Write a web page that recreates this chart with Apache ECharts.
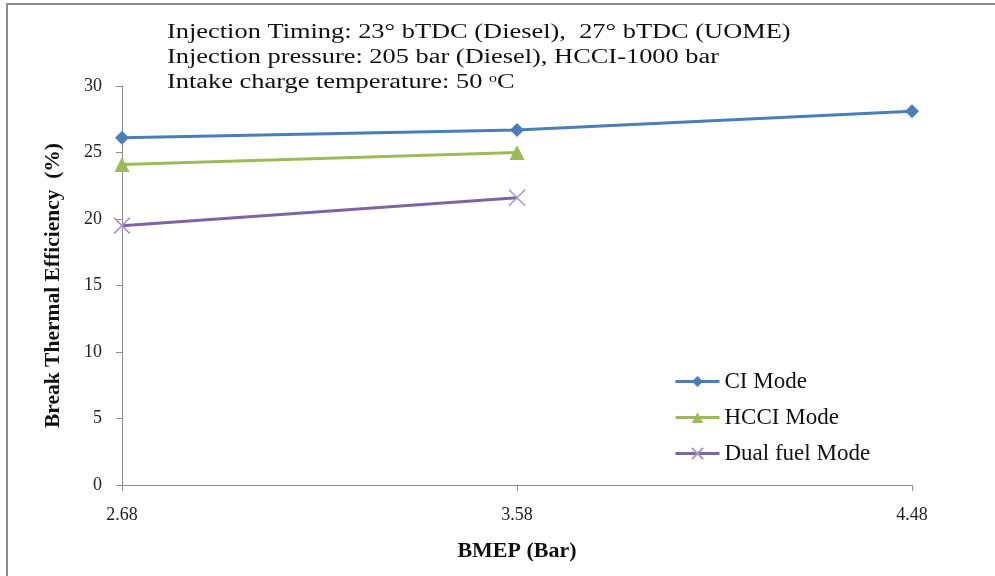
<!DOCTYPE html>
<html>
<head>
<meta charset="utf-8">
<script src="https://cdn.jsdelivr.net/npm/echarts@6/dist/echarts.min.js"></script>
<style>
  html, body { margin: 0; padding: 0; background: #fff; }
  #chart { width: 995px; height: 576px; }
</style>
</head>
<body>
<div id="chart"></div>
<script>
// BMEP load points
var bmep = ['2.68', '3.58', '4.48'];
// brake thermal efficiency (%)
var ciMode = [26.1, 26.7, 28.1];
var hcciMode = [24.1, 25.0];
var dualMode = [19.5, 21.6];
var yTicks = { min: 0, max: 30, step: 5 };

var serif = 'Liberation Serif';
var crossPath = 'path://M0,0L10,10M10,0L0,10';
// the source picture is stretched sideways, so the notes are too
var noteStretch = 1.32;

var myChart = echarts.init(document.getElementById('chart'));

var option = {
	backgroundColor: '#fff',
	animation: false,
	textStyle: { fontFamily: serif },
	grid: { left: 122, right: 83, top: 86, bottom: 91 },
	graphic: [
		// outer frame (only top/left visible in the picture)
		{ type: 'rect', shape: { x: 7, y: 4, width: 1010, height: 600 },
		  style: { fill: 'none', stroke: '#8c8c8c', lineWidth: 2 } },
		{ type: 'text', x: 167, y: 23, scaleX: noteStretch,
		  style: { text: 'Injection Timing: 23\u00b0 bTDC (Diesel),  27\u00b0 bTDC (UOME)',
			font: '20px "Liberation Serif"', fill: '#111' } },
		{ type: 'text', x: 167, y: 48, scaleX: noteStretch,
		  style: { text: 'Injection pressure: 205 bar (Diesel), HCCI-1000 bar',
			font: '20px "Liberation Serif"', fill: '#111' } },
		{ type: 'text', x: 167, y: 73, scaleX: noteStretch,
		  style: { text: 'Intake charge temperature: 50 {sup|o}C',
			font: '20px "Liberation Serif"', fill: '#111',
			rich: { sup: { fontSize: 12, verticalAlign: 'top', padding: [0, 0, 8, 0], fontFamily: serif, fill: '#111' } } } }
	],
	legend: {
		orient: 'vertical',
		left: 669,
		top: 365,
		itemWidth: 44,
		itemHeight: 14,
		itemGap: 13,
		lineStyle: { width: 3 },
		textStyle: { fontFamily: serif, fontSize: 23, color: '#111' },
		data: ['CI Mode', 'HCCI Mode', 'Dual fuel Mode']
	},
	xAxis: {
		type: 'category',
		data: bmep,
		boundaryGap: false,
		name: 'BMEP (Bar)',
		nameLocation: 'middle',
		nameGap: 55,
		nameTextStyle: { fontFamily: serif, fontSize: 22, fontWeight: 'bold', color: '#111' },
		axisLine: { lineStyle: { color: '#8c8c8c', width: 1 } },
		axisTick: { alignWithLabel: true, length: 6, lineStyle: { color: '#8c8c8c' } },
		axisLabel: { fontFamily: serif, fontSize: 18, color: '#222', margin: 21 },
		splitLine: { show: false }
	},
	yAxis: {
		type: 'value',
		min: yTicks.min,
		max: yTicks.max,
		interval: yTicks.step,
		name: 'Break Thermal Efficiency  (%)',
		nameLocation: 'middle',
		nameGap: 58,
		nameTextStyle: { fontFamily: serif, fontSize: 21.5, fontWeight: 'bold', color: '#111' },
		axisLine: { show: true, lineStyle: { color: '#8c8c8c', width: 1 } },
		axisTick: { show: true, length: 6, lineStyle: { color: '#8c8c8c' } },
		axisLabel: { fontFamily: serif, fontSize: 18, color: '#222', margin: 20 },
		splitLine: { show: false }
	},
	series: [
		{
			name: 'CI Mode', type: 'line', data: ciMode,
			symbol: 'diamond', symbolSize: 14,
			itemStyle: { color: '#4a7ebb' },
			lineStyle: { color: '#4a7ebb', width: 3 }
		},
		{
			name: 'HCCI Mode', type: 'line', data: hcciMode,
			symbol: 'triangle', symbolSize: 15,
			itemStyle: { color: '#9bbb59' },
			lineStyle: { color: '#9bbb59', width: 3 }
		},
		{
			name: 'Dual fuel Mode', type: 'line', data: dualMode,
			symbol: crossPath, symbolSize: 16,
			itemStyle: { color: '#8064a2', borderColor: '#a593cc', borderWidth: 1.5 },
			lineStyle: { color: '#8064a2', width: 3 }
		}
	]
};

myChart.setOption(option);
</script>
</body>
</html>
